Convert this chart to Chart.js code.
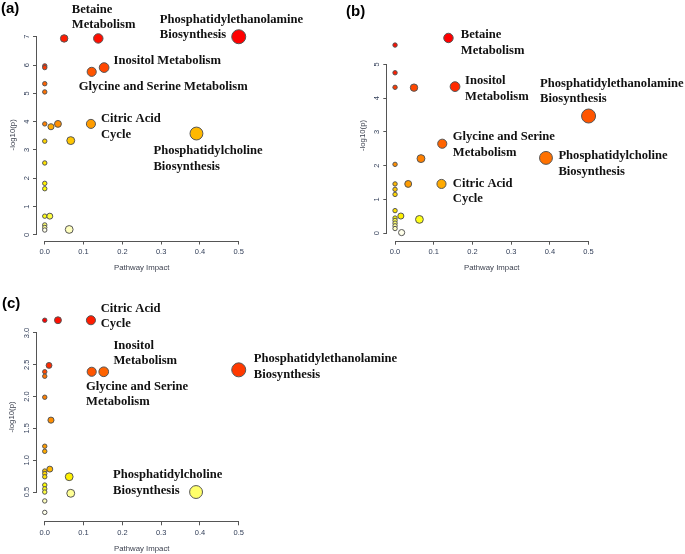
<!DOCTYPE html>
<html>
<head>
<meta charset="utf-8">
<script src="https://cdn.jsdelivr.net/npm/chart.js@4.4.1/dist/chart.umd.min.js"></script>
<style>
  html, body { margin: 0; padding: 0; background: #fff; overflow: hidden; }
  body { width: 685px; height: 554px; position: relative; }
  canvas { position: absolute; }
  .tag { position: absolute; font: bold 15px "Liberation Sans", Arial, sans-serif; color: #000; line-height: 15px; }
</style>
</head>
<body>
<canvas id="chartA" width="340" height="280" style="left:0;top:0"></canvas>
<canvas id="chartB" width="345" height="280" style="left:340px;top:0"></canvas>
<canvas id="chartC" width="420" height="274" style="left:0;top:280px"></canvas>
<div class="tag" style="left:1px;top:0px">(a)</div>
<div class="tag" style="left:346px;top:3px">(b)</div>
<div class="tag" style="left:2px;top:295px">(c)</div>
<script>
// pathway impact (x) and -log10(p) (y), one pair of arrays per panel
const impactA = [0.5, 0.138, 0.05, 0, 0, 0.153, 0.121, 0, 0, 0, 0.034, 0.119, 0.016, 0.391, 0.067, 0, 0, 0, 0, 0, 0.013, 0, 0, 0.063, 0];
const logpA   = [7.00, 6.94, 6.94, 5.97, 5.91, 5.91, 5.76, 5.34, 5.05, 3.92, 3.92, 3.92, 3.82, 3.58, 3.33, 3.31, 2.54, 1.82, 1.63, 0.66, 0.66, 0.35, 0.26, 0.19, 0.17];

const impactB = [0.138, 0, 0, 0.155, 0, 0.049, 0.5, 0.122, 0.39, 0.067, 0, 0.034, 0.12, 0, 0, 0, 0, 0.015, 0, 0.063, 0, 0, 0, 0, 0.017];
const logpB   = [5.78, 5.57, 4.75, 4.34, 4.32, 4.31, 3.47, 2.65, 2.23, 2.21, 2.04, 1.46, 1.46, 1.46, 1.30, 1.15, 0.67, 0.51, 0.45, 0.41, 0.38, 0.30, 0.22, 0.14, 0.02];

const impactC = [0, 0.034, 0.119, 0.011, 0.5, 0, 0.121, 0.152, 0, 0, 0.016, 0, 0, 0.013, 0, 0, 0, 0.063, 0, 0, 0, 0.39, 0.067, 0, 0];
const logpC   = [3.20, 3.20, 3.20, 2.49, 2.42, 2.39, 2.39, 2.39, 2.32, 1.99, 1.63, 1.22, 1.14, 0.86, 0.83, 0.79, 0.74, 0.74, 0.61, 0.55, 0.50, 0.50, 0.48, 0.36, 0.18];

const xTicks  = [0, 0.1, 0.2, 0.3, 0.4, 0.5];
const yTicksA = [0, 1, 2, 3, 4, 5, 6, 7];
const yTicksB = [0, 1, 2, 3, 4, 5];
const yTicksC = [0.5, 1.0, 1.5, 2.0, 2.5, 3.0];

// labelled pathways: index into the panel arrays, text lines, offset from the bubble in px
const notesA = [
  { i: 0,  lines: ['Phosphatidylethanolamine', 'Biosynthesis'], dx: -79, dy: -17.5 },
  { i: 1,  lines: ['Betaine', 'Metabolism'], dx: -26.5, dy: -29 },
  { i: 5,  lines: ['Inositol Metabolism'], dx: 9.5, dy: -6.5 },
  { i: 6,  lines: ['Glycine and Serine Metabolism'], dx: -13, dy: 15 },
  { i: 11, lines: ['Citric Acid', 'Cycle'], dx: 10, dy: -5 },
  { i: 13, lines: ['Phosphatidylcholine', 'Biosynthesis'], dx: -43, dy: 17.5 }
];
const notesB = [
  { i: 0,  lines: ['Betaine', 'Metabolism'], dx: 12.3, dy: -3 },
  { i: 3,  lines: ['Inositol', 'Metabolism'], dx: 10, dy: -5.6 },
  { i: 6,  lines: ['Phosphatidylethanolamine', 'Biosynthesis'], dx: -48.5, dy: -32.7 },
  { i: 7,  lines: ['Glycine and Serine', 'Metabolism'], dx: 10.5, dy: -6.7 },
  { i: 8,  lines: ['Phosphatidylcholine', 'Biosynthesis'], dx: 12.4, dy: -2 },
  { i: 12, lines: ['Citric Acid', 'Cycle'], dx: 11.3, dy: -0.7 }
];
const notesC = [
  { i: 2,  lines: ['Citric Acid', 'Cycle'], dx: 9.8, dy: -12 },
  { i: 7,  lines: ['Inositol', 'Metabolism'], dx: 9.7, dy: -26.3 },
  { i: 6,  lines: ['Glycine and Serine', 'Metabolism'], dx: -5.7, dy: 14.7 },
  { i: 4,  lines: ['Phosphatidylethanolamine', 'Biosynthesis'], dx: 15, dy: -11 },
  { i: 21, lines: ['Phosphatidylcholine', 'Biosynthesis'], dx: -83, dy: -17 }
];

Chart.defaults.font.family = '"Liberation Sans", Arial, sans-serif';

function hsv(h, s, v) {
  const f = (n) => {
    const k = (n + h * 6) % 6;
    return Math.round(255 * (v - v * s * Math.max(0, Math.min(k, 4 - k, 1))));
  };
  return `rgb(${f(5)},${f(3)},${f(1)})`;
}

// same ramp as R's heat.colors(n)
function heatColors(n) {
  const j = Math.floor(n / 4), i = n - j;
  const cols = [];
  for (let k = 0; k < i; k++) cols.push(hsv((k / (i - 1)) / 6, 1, 1));
  for (let k = 0; k < j; k++) cols.push(hsv(1 / 6, 1 - 1 / (2 * j) - k / j, 1));
  return cols;
}

// colour by rank of -log10(p), most significant = red
function rankColors(logp) {
  const cols = heatColors(logp.length);
  const order = logp.map((v, i) => i).sort((a, b) => logp[b] - logp[a]);
  const out = [];
  order.forEach((idx, rank) => { out[idx] = cols[rank]; });
  return out;
}

function bubbleRadius(impact) {
  return 2.2 + 6.8 * Math.sqrt(impact);
}

const axisLines = {
  id: 'axisLines',
  beforeDatasetsDraw(chart) {
    const { ctx, chartArea, scales: { x, y } } = chart;
    ctx.save();
    ctx.strokeStyle = '#555';
    ctx.lineWidth = 1;
    const by = Math.round(chartArea.bottom) + 0.5;
    const lx = Math.round(chartArea.left) - 0.5;
    ctx.beginPath();
    ctx.moveTo(x.getPixelForValue(x.ticks[0].value), by);
    ctx.lineTo(x.getPixelForValue(x.ticks[x.ticks.length - 1].value), by);
    ctx.moveTo(lx, y.getPixelForValue(y.ticks[0].value));
    ctx.lineTo(lx, y.getPixelForValue(y.ticks[y.ticks.length - 1].value));
    ctx.stroke();
    ctx.restore();
  }
};

const pathwayLabels = {
  id: 'pathwayLabels',
  afterDatasetsDraw(chart, args, opts) {
    const { ctx, scales: { x, y } } = chart;
    const pts = chart.data.datasets[0].data;
    ctx.save();
    ctx.font = 'bold 12.6px "Liberation Serif", "Times New Roman", serif';
    ctx.fillStyle = '#111';
    ctx.textBaseline = 'middle';
    ctx.textAlign = 'left';
    opts.items.forEach(n => {
      const p = pts[n.i];
      const px = x.getPixelForValue(p.x) + n.dx;
      const py = y.getPixelForValue(p.y) + n.dy;
      n.lines.forEach((t, k) => ctx.fillText(t, px, py + k * 15.5));
    });
    ctx.restore();
  }
};

function makePanel(id, impact, logp, yTicks, yMin, yMax, yDigits, notes, geo) {
  const canvas = document.getElementById(id);
  const W = canvas.width, H = canvas.height;
  const points = impact.map((v, i) => ({ x: v, y: logp[i], r: bubbleRadius(v) }));
  const tickColor = '#34405a';

  new Chart(canvas, {
    type: 'bubble',
    data: {
      datasets: [{
        data: points,
        backgroundColor: rankColors(logp),
        borderColor: '#555',
        borderWidth: 1,
        clip: false
      }]
    },
    options: {
      responsive: false,
      animation: false,
      devicePixelRatio: 1,
      layout: {
        padding: { left: geo.padLeft, top: geo.top, right: W - geo.right, bottom: 0 }
      },
      plugins: {
        legend: { display: false },
        tooltip: { enabled: false },
        pathwayLabels: { items: notes }
      },
      scales: {
        x: {
          type: 'linear',
          min: -0.02,
          max: 0.52,
          afterBuildTicks: s => { s.ticks = xTicks.map(v => ({ value: v })); },
          afterFit: s => { s.height = H - geo.bottom; },
          border: { display: false },
          grid: { drawOnChartArea: false, drawTicks: true, tickLength: 4, color: '#555' },
          ticks: {
            font: { size: 7.5 }, color: tickColor, padding: 3,
            maxRotation: 0, autoSkip: false,
            callback: v => v.toFixed(1)
          },
          title: {
            display: true, text: 'Pathway Impact', color: '#3a3f4d',
            font: { size: 7.8 }, padding: { top: 0, bottom: H - geo.bottom - 32 }
          }
        },
        y: {
          type: 'linear',
          min: yMin,
          max: yMax,
          afterBuildTicks: s => { s.ticks = yTicks.map(v => ({ value: v })); },
          afterFit: s => { s.width = geo.left - geo.padLeft; },
          border: { display: false },
          grid: { drawOnChartArea: false, drawTicks: true, tickLength: 4, color: '#555' },
          ticks: {
            font: { size: 7.5 }, color: tickColor, padding: geo.yPad,
            minRotation: 90, maxRotation: 90, crossAlign: 'center', autoSkip: false,
            callback: v => v.toFixed(yDigits)
          },
          title: {
            display: true, text: '-log10(p)', color: '#3a3f4d',
            font: { size: 7.8 }, padding: { top: geo.titlePad, bottom: 0 }
          }
        }
      }
    },
    plugins: [axisLines, pathwayLabels]
  });
}

makePanel('chartA', impactA, logpA, yTicksA, -0.2, 7.27, 0, notesA,
  { padLeft: 0, left: 37, right: 246.5, top: 29.1, bottom: 240.5, yPad: 3.5, titlePad: 8 });
makePanel('chartB', impactB, logpB, yTicksB, -0.22, 6.01, 0, notesB,
  { padLeft: 10, left: 47.3, right: 256.3, top: 30.2, bottom: 240.7, yPad: 4, titlePad: 8.5 });
makePanel('chartC', impactC, logpC, yTicksC, 0.04, 3.32, 1, notesC,
  { padLeft: 0, left: 37, right: 246.5, top: 32.6, bottom: 241.3, yPad: 0.5, titlePad: 7.5 });
</script>
</body>
</html>
